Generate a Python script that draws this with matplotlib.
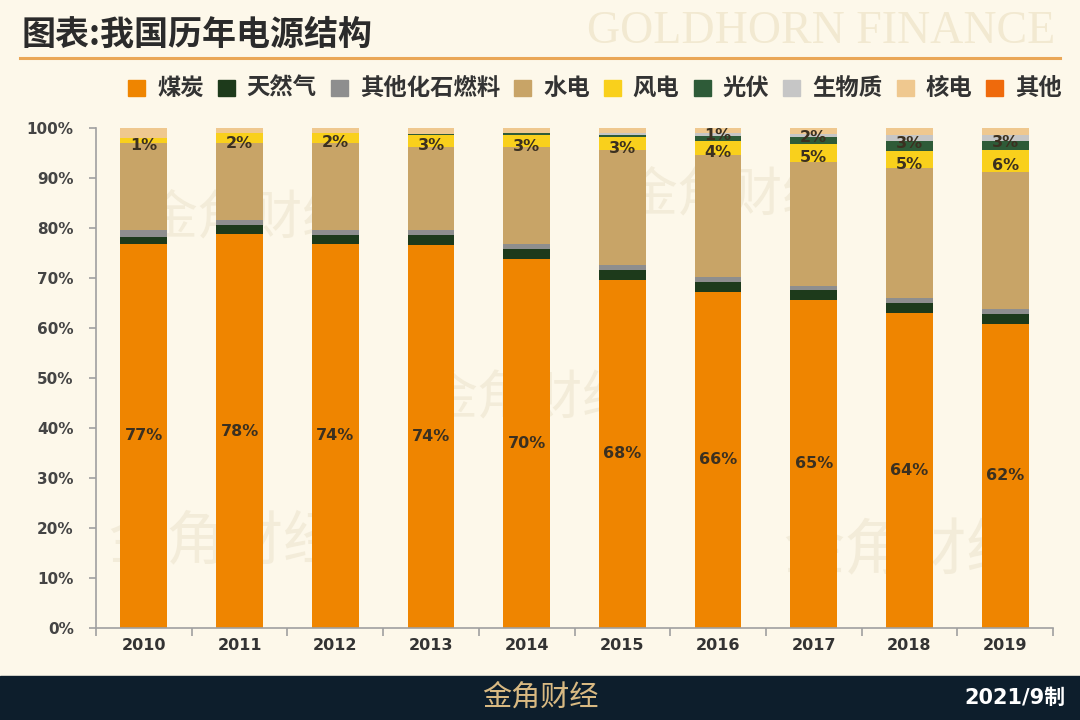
import numpy as np
import matplotlib
matplotlib.use("Agg")
import matplotlib.pyplot as plt
from matplotlib.patches import Rectangle
from matplotlib.lines import Line2D

plt.rcParams['font.family'] = ['DejaVu Sans', 'Noto Sans CJK SC']
CJK = ['Noto Sans CJK SC', 'DejaVu Sans']

# ---------------- data (share of generation, %) ----------------
years = ['2010', '2011', '2012', '2013', '2014', '2015', '2016', '2017', '2018', '2019']
series_names = ['煤炭', '天然气', '其他化石燃料', '水电', '风电', '光伏', '生物质', '核电', '其他']
coal = [76.8, 78.8, 76.8, 76.6, 73.9, 69.7, 67.3, 65.6, 63.1, 60.9]
gas = [1.5, 1.9, 1.9, 2.0, 1.9, 2.0, 1.9, 2.0, 2.0, 2.0]
other_fossil = [1.3, 0.9, 1.0, 1.0, 0.9, 1.0, 1.0, 0.9, 1.0, 0.9]
hydro = [17.4, 15.4, 17.4, 16.7, 19.4, 23.0, 24.4, 24.8, 25.9, 27.5]
wind = [1.1, 2.0, 2.0, 2.3, 2.5, 2.5, 2.9, 3.6, 3.5, 4.3]
solar = [0.0, 0.0, 0.0, 0.2, 0.3, 0.5, 0.9, 1.4, 1.9, 1.9]
biomass = [0.0, 0.0, 0.0, 0.0, 0.0, 0.4, 0.7, 0.5, 1.3, 1.1]
nuclear = [1.9, 1.0, 0.9, 1.2, 1.1, 0.9, 0.9, 1.2, 1.3, 1.4]
other = [0.0] * 10

# printed labels
coal_labels = ['77%', '78%', '74%', '74%', '70%', '68%', '66%', '65%', '64%', '62%']
wind_labels = ['1%', '2%', '2%', '3%', '3%', '3%', '4%', '5%', '5%', '6%']
solar_labels = ['', '', '', '', '', '', '1%', '2%', '3%', '3%']

colors = ['#ef8500', '#1d3a1b', '#8e8e8e', '#c8a467', '#f9d01c',
          '#2e5b38', '#c6c6c6', '#efc88f', '#ef6a0c']

BG = '#fdf8ea'
fig = plt.figure(figsize=(10.8, 7.2), dpi=100, facecolor=BG)
W, H = 1080, 720

def fx(px):
    return px / W

def fy(py):
    return 1 - py / H

# watermarks (behind the chart)
wm_color = '#f3ecd9'
for (x, y, s) in [(250, 218, 38), (730, 195, 38), (530, 398, 38), (225, 542, 42), (905, 552, 44)]:
    fig.text(fx(x), fy(y), '金角财经', family=CJK, fontsize=s, color=wm_color,
             ha='center', va='center', zorder=0)

ax = fig.add_axes([fx(96), fy(628), fx(1053 - 96), 500 / H])
ax.set_facecolor('none')
ax.set_zorder(2)

data = [coal, gas, other_fossil, hydro, wind, solar, biomass, nuclear, other]
x = np.arange(len(years))
bottom = np.zeros(len(years))
bottoms = []
for vals, c in zip(data, colors):
    v = np.array(vals)
    bottoms.append(bottom.copy())
    ax.bar(x, v, 0.49, bottom=bottom, color=c, edgecolor='none', zorder=2)
    bottom = bottom + v

lab_kw = dict(ha='center', va='center', fontsize=11.5, fontweight='bold',
              color='#3b3020', zorder=5)
for i in range(len(years)):
    ax.text(x[i], coal[i] / 2, coal_labels[i], **lab_kw)
    ax.text(x[i], bottoms[4][i] + wind[i] / 2 - 1.0, wind_labels[i], **lab_kw)
    if solar_labels[i]:
        ax.text(x[i], bottoms[5][i] + solar[i] / 2 + 0.5, solar_labels[i], **lab_kw)

ax.set_xlim(-0.5, 9.5)
ax.set_ylim(0, 100)
ax.set_yticks(np.arange(0, 101, 10))
ax.set_yticklabels([f'{v}%' for v in range(0, 101, 10)])
ax.set_xticks(np.arange(-0.5, 10, 1))
ax.set_xticklabels([])
ax.set_xticks(x, minor=True)
ax.set_xticklabels(years, minor=True)
ax.tick_params(axis='x', which='major', length=6, color='#a0a0a0', width=1.2)
ax.tick_params(axis='x', which='minor', length=0, pad=7, labelsize=11.5,
               labelcolor='#333333')
ax.tick_params(axis='y', length=5, color='#a0a0a0', width=1.2, pad=11,
               labelsize=11, labelcolor='#444444')
for lab in ax.get_xticklabels(minor=True) + ax.get_yticklabels():
    lab.set_fontweight('bold')
for s in ['top', 'right']:
    ax.spines[s].set_visible(False)
for s in ['left', 'bottom']:
    ax.spines[s].set_color('#a0a0a0')
    ax.spines[s].set_linewidth(1.2)

# header
fig.text(fx(22), fy(34), '图表:我国历年电源结构', family=CJK, fontsize=24.5,
         fontweight='bold', color='#2b2b2b', ha='left', va='center')
fig.text(fx(1055), fy(32), 'GOLDHORN FINANCE', family=['Liberation Serif'],
         fontsize=33, color='#f2e9d1', ha='right', va='center')
fig.add_artist(Line2D([fx(20), fx(1060)], [fy(58), fy(58)], color='#eaa757',
                      lw=2.2, transform=fig.transFigure))

# legend (manual)
renderer = fig.canvas.get_renderer()
cur = 128
ly = 88
for name, c in zip(series_names, colors):
    fig.add_artist(Rectangle((fx(cur), fy(ly + 7.5)), fx(17), 15 / H, color=c,
                             transform=fig.transFigure))
    t = fig.text(fx(cur + 29), fy(ly), name, family=CJK, fontsize=16.8,
                 fontweight='bold', color='#333333', ha='left', va='center')
    bb = t.get_window_extent(renderer)
    cur = bb.x1 + 14

# footer
fig.add_artist(Rectangle((0, 0), 1, 44 / H, color='#0d1e2c',
                         transform=fig.transFigure))
fig.text(0.5, fy(698), '金角财经', family=CJK, fontsize=21, fontweight='medium',
         color='#d8b982', ha='center', va='center')
fig.text(fx(1065), fy(698), '2021/9制', family=['DejaVu Sans', 'Noto Sans CJK SC'],
         fontsize=15, fontweight='bold', color='white', ha='right', va='center')

fig.savefig('out.png', dpi=100, facecolor=BG)
